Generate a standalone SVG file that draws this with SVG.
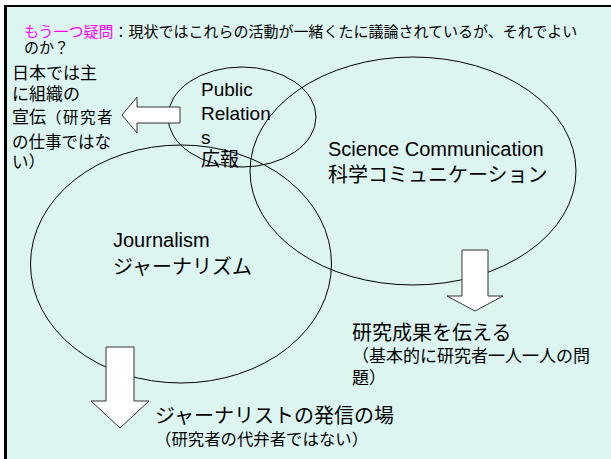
<svg xmlns="http://www.w3.org/2000/svg" width="611" height="459" viewBox="0 0 611 459">
<style>
.t{font-family:"Liberation Sans","Noto Sans CJK JP",sans-serif;fill:#000}
.ell{fill:none;stroke:#000;stroke-width:1}
.arr{fill:#fff;stroke:#333;stroke-width:1}
</style>
<rect width="611" height="459" fill="#fff"/>
<rect x="5" y="6" width="606" height="453" fill="#ddf5f1"/>
<line x1="4" y1="6" x2="611" y2="6" stroke="#000" stroke-width="2"/>
<line x1="5.5" y1="5" x2="5.5" y2="459" stroke="#000" stroke-width="3"/>
<g id="title">
<text class="t" x="24" y="37" font-size="15"><tspan fill="#ff00ff">もう一つ疑問</tspan>：現状ではこれらの活動が一緒くたに議論されているが、それでよい</text>
<text class="t" x="24" y="53" font-size="15">のか？</text>
</g>
<g id="public-relations">
<ellipse class="ell" cx="242" cy="117" rx="74" ry="50"/>
<text class="t" font-size="19"><tspan x="201" y="96">Public</tspan><tspan x="201" y="120">Relation</tspan><tspan x="201" y="144">s</tspan><tspan x="201" y="166">広報</tspan></text>
</g>
<g id="science-communication">
<ellipse class="ell" cx="413" cy="171" rx="163" ry="114"/>
<text class="t" font-size="20"><tspan x="328" y="156">Science Communication</tspan><tspan x="328" y="182">科学コミュニケーション</tspan></text>
</g>
<g id="journalism">
<ellipse class="ell" cx="181" cy="264" rx="150.5" ry="119"/>
<text class="t" font-size="20"><tspan x="113" y="247">Journalism</tspan><tspan x="113" y="274">ジャーナリズム</tspan></text>
</g>
<g id="connectors">
<polygon class="arr" points="180,107 137,107 137,97 122,115 137,133 137,123 180,123"/>
<polygon class="arr" points="462,250 488,250 488,296 503,296 475,311 447,296 462,296"/>
<polygon class="arr" points="106,347 134,347 134,401 149,401 120,428 91,401 106,401"/>
</g>
<g id="pr-note">
<text class="t" x="12" y="79" font-size="17">日本では主</text>
<text class="t" x="12" y="100" font-size="17">に組織の</text>
<text class="t" x="12" y="123" font-size="17">宣伝<tspan font-size="15.5" letter-spacing="1.5">（研究者</tspan></text>
<text class="t" x="12" y="148" font-size="16.5">の仕事ではな</text>
<text class="t" x="12" y="168" font-size="16.5">い）</text>
</g>
<g id="sc-note">
<text class="t" x="352" y="340" font-size="20">研究成果を伝える</text>
<text class="t" x="352" y="362" font-size="17">（基本的に研究者一人一人の問</text>
<text class="t" x="352" y="384" font-size="17">題）</text>
</g>
<g id="journalism-note">
<text class="t" x="155" y="423" font-size="20">ジャーナリストの発信の場</text>
<text class="t" x="155" y="445" font-size="16.4">（研究者の代弁者ではない）</text>
</g>
</svg>
